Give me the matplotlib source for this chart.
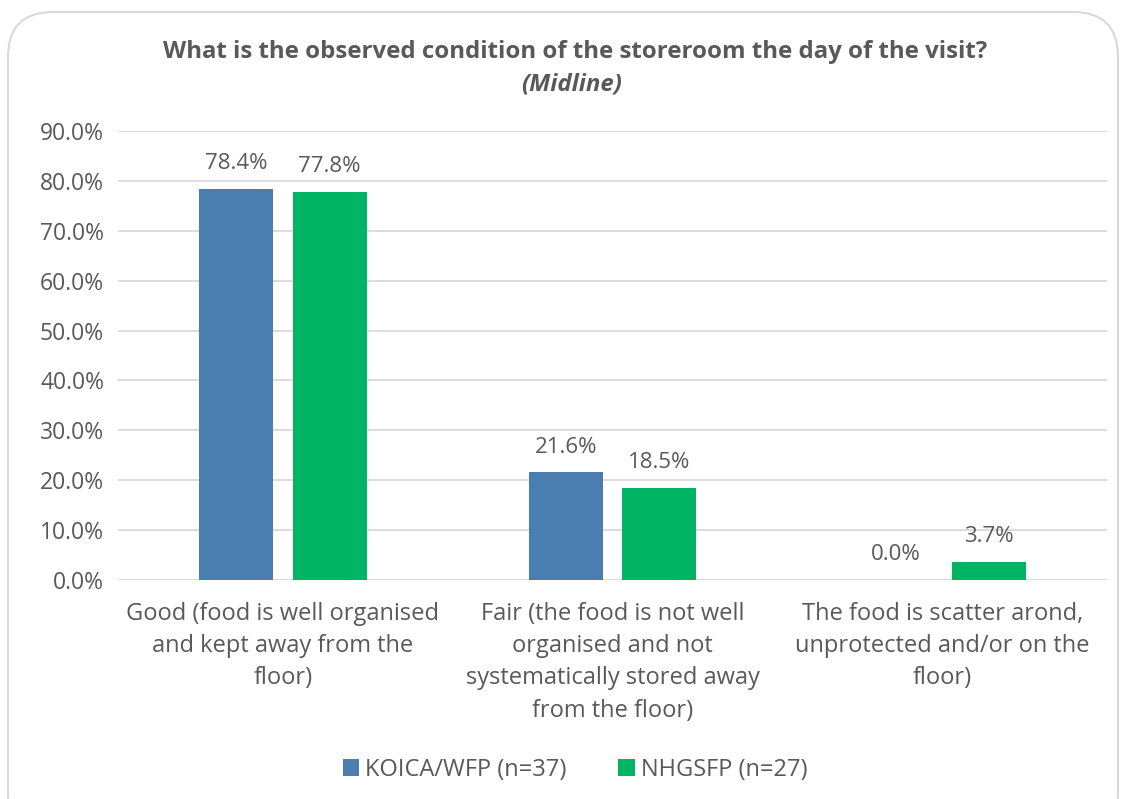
import matplotlib.pyplot as plt
from matplotlib.patches import FancyBboxPatch
import numpy as np

categories = [
  'Good (food is well organised\nand kept away from the\nfloor)',
  'Fair (the food is not well\norganised and not\nsystematically stored away\nfrom the floor)',
  'The food is scatter arond,\nunprotected and/or on the\nfloor)',
]
series_names = ['KOICA/WFP (n=37)', 'NHGSFP (n=27)']
koica = [78.4, 21.6, 0.0]
nhgsfp = [77.8, 18.5, 3.7]
yticks = np.arange(0, 91, 10)

TEXT = '#595959'
BLUE = '#4a7db0'
GREEN = '#00b464'
GRID = '#d9d9d9'

plt.rcParams['font.family'] = ['Open Sans', 'DejaVu Sans']

fig = plt.figure(figsize=(11.23, 7.99), dpi=100)
W, H = 1123, 799

# rounded frame around the chart area
frame = FancyBboxPatch((8 / W, -0.05), 1110 / W, (799 - 12) / H + 0.05,
                       boxstyle='round,pad=0,rounding_size=0.04',
                       transform=fig.transFigure, fc='white', ec=GRID, lw=1.5,
                       mutation_aspect=W / H, zorder=-5)
fig.patches.append(frame)

ax = fig.add_axes([118 / W, 1 - 580 / H, (1107 - 118) / W, (580 - 131) / H])
ax.set_facecolor('none')

x = np.arange(len(categories))
bw = 0.224
gap = 0.06
b1 = ax.bar(x - (bw + gap) / 2, koica, bw, color=BLUE, label=series_names[0], zorder=3)
b2 = ax.bar(x + (bw + gap) / 2, nhgsfp, bw, color=GREEN, label=series_names[1], zorder=3)

for bars, vals in [(b1, koica), (b2, nhgsfp)]:
  for r, v in zip(bars, vals):
    ax.annotate(f'{v:.1f}%', (r.get_x() + r.get_width() / 2, v), xytext=(0, 10.5),
                textcoords='offset points', ha='center', va='bottom',
                fontsize=16, color=TEXT)

ax.set_xlim(-0.5, len(categories) - 0.5)
ax.set_ylim(0, 90)
ax.set_yticks(yticks)
ax.set_yticklabels([f'{v:.1f}%' for v in yticks], fontsize=16.5, color=TEXT)
ax.set_xticks(x)
ax.set_xticklabels(categories, fontsize=17, color=TEXT, linespacing=1.45)
ax.tick_params(axis='both', length=0)
ax.tick_params(axis='x', pad=16)
ax.tick_params(axis='y', pad=10)
ax.grid(axis='y', color=GRID, lw=1.3, zorder=0)
for s in ax.spines.values():
  s.set_visible(False)

fig.text(575 / W, 1 - 52 / H, 'What is the observed condition of the storeroom the day of the visit?',
         ha='center', va='center', fontsize=17.3, fontweight='bold', color=TEXT)
fig.text(572 / W, 1 - 85 / H, '(Midline)', ha='center', va='center', fontsize=17.3,
         fontweight='bold', fontstyle='italic', color=TEXT)

fig.legend(loc='center', bbox_to_anchor=(575 / W, 1 - 770 / H), ncol=2, frameon=False,
           fontsize=17, labelcolor=TEXT, handlelength=0.7, handleheight=0.7,
           handletextpad=0.25, columnspacing=2.2)

fig.savefig('out.png', dpi=100)
